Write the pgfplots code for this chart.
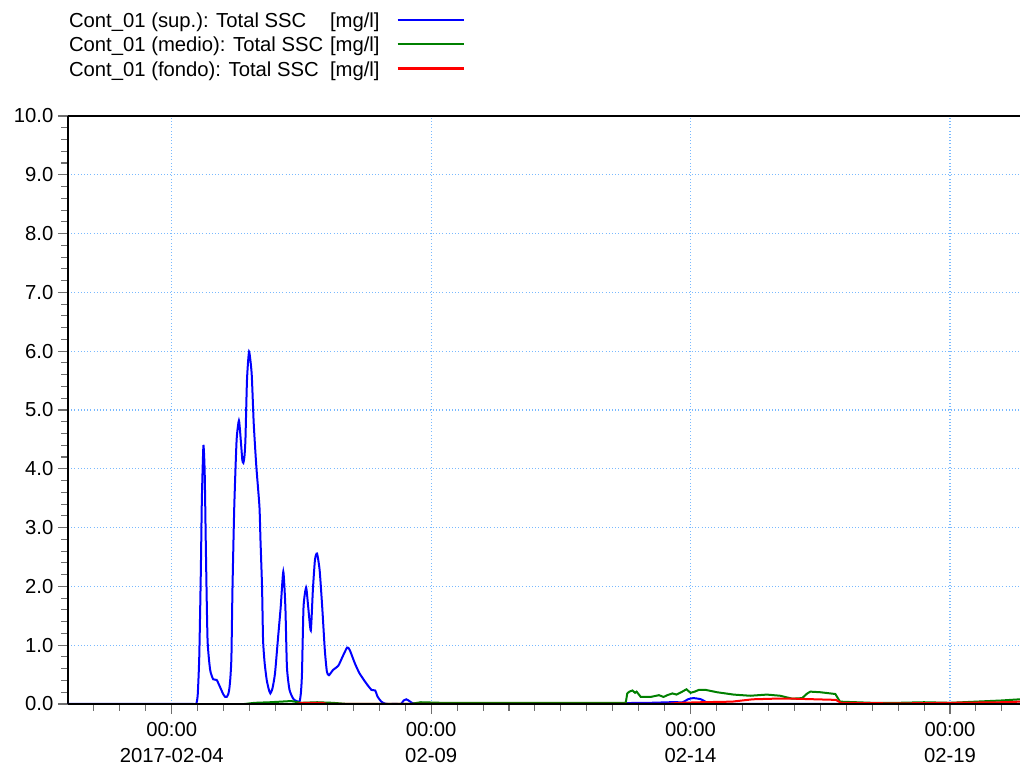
\documentclass[border=0pt]{standalone}
\usepackage{pgfplots}
\pgfplotsset{compat=1.18}
\usepackage{fontspec}
\setmainfont{Liberation Sans}
\definecolor{gridblue}{RGB}{120,185,255}
\definecolor{tickgray}{RGB}{110,110,110}
\definecolor{dgreen}{RGB}{0,128,0}
\newcommand{\legline}[1]{\hspace{13.5pt}\textcolor{#1}{\rule[5pt]{49.5pt}{1.6pt}}}
\begin{document}
\begin{tikzpicture}
\begin{axis}[
  name=ax,
  scale only axis,
  width=714pt, height=441pt,
  xmin=-2, xmax=16.35,
  ymin=0, ymax=10,
  axis x line=bottom, axis y line=left,
  axis line style={-, black, line width=1.5pt},
  tick align=outside,
  major tick length=7.5pt, minor tick length=5pt,
  every tick/.style={tickgray, line width=0.8pt},
  xtick={0,5,10,15},
  minor xtick={-1.5,-1,-0.5,0.5,1,1.5,2,2.5,3,3.5,4,4.5,5.5,6,6.5,7,7.5,8,8.5,9,9.5,10.5,11,11.5,12,12.5,13,13.5,14,14.5,15.5,16},
  xticklabels={{00:00\\2017-02-04},{00:00\\02-09},{00:00\\02-14},{00:00\\02-19}},
  x tick label style={align=center, font=\fontsize{15.2}{19}\selectfont, yshift=-3pt},
  ytick={0,1,...,10},
  minor y tick num=4,
  y tick label style={font=\fontsize{15.2}{18}\selectfont},
  y tick label style={/pgf/number format/fixed, /pgf/number format/fixed zerofill, /pgf/number format/precision=1, /pgf/number format/assume math mode=true},
  grid=major,
  major grid style={gridblue, dotted, line width=0.8pt},
  legend style={draw=none, fill=none, at={(axis description cs:0,1)}, anchor=south west,
    xshift=-3pt, yshift=25.5pt, font=\fontsize{15.2}{18}\selectfont, row sep=4.5pt, column sep=0pt,
    nodes={inner sep=0.6pt}, cells={anchor=west}},
  legend image code/.code={},
]
\addplot[blue, line width=1.5pt, smooth, tension=0.35] coordinates {
(-2,0) (-1,0) (0,0) (0.3,0) (0.42,0) (0.47,0) (0.50,0.15) (0.53,0.80) (0.56,2.23) (0.58,3.47) (0.61,4.39) (0.635,3.93) (0.66,2.5) (0.69,1.09) (0.74,0.58) (0.80,0.42) (0.865,0.41) (0.93,0.29) (0.99,0.17) (1.03,0.12) (1.06,0.12) (1.09,0.17) (1.11,0.26) (1.13,0.45) (1.15,0.80) (1.17,1.94) (1.205,3.36) (1.25,4.49) (1.295,4.82) (1.33,4.49) (1.36,4.15) (1.38,4.10) (1.40,4.2) (1.42,4.49) (1.45,5.51) (1.49,5.99) (1.54,5.62) (1.58,4.77) (1.63,4.04) (1.69,3.36) (1.71,2.79) (1.74,2.0) (1.76,1.09) (1.79,0.7) (1.83,0.41) (1.87,0.25) (1.90,0.18) (1.94,0.26) (1.99,0.52) (2.05,1.14) (2.10,1.65) (2.15,2.25) (2.19,1.65) (2.22,0.63) (2.27,0.24) (2.35,0.08) (2.46,0.04) (2.49,0.2) (2.51,0.52) (2.54,1.65) (2.59,1.98) (2.63,1.65) (2.68,1.25) (2.72,1.94) (2.76,2.45) (2.80,2.56) (2.85,2.28) (2.90,1.65) (2.95,0.92) (2.99,0.55) (3.03,0.49) (3.11,0.58) (3.21,0.65) (3.29,0.80) (3.38,0.96) (3.43,0.92) (3.53,0.69) (3.62,0.52) (3.75,0.35) (3.85,0.24) (3.92,0.23) (3.97,0.12) (4.04,0.04) (4.10,0.01) (4.15,0) (4.25,0) (4.35,0) (4.42,0) (4.47,0.06) (4.52,0.08) (4.58,0.05) (4.65,0.01) (4.75,0.01) (5.0,0.01) (6.0,0.01) (7.0,0.01) (8.0,0.01) (8.6,0.015) (9.2,0.02) (9.6,0.03) (9.75,0.03) (9.85,0.03) (9.95,0.08) (10.05,0.10) (10.2,0.08) (10.35,0.01) (10.5,0) (10.7,0) (11.5,0) (13,0) (16.35,0)
};
\addlegendentry{\makebox[195.75pt][l]{Cont\_01 (sup.): Total SSC}[mg/l]\legline{blue}}
\addplot[dgreen, line width=1.5pt] coordinates {
(1.4,0) (1.6,0.02) (1.9,0.03) (2.1,0.04) (2.3,0.05) (2.5,0.02) (2.8,0.03) (3.1,0.02) (3.4,0) (4.6,0) (4.8,0.03) (5.2,0.02) (6,0.02) (7,0.02) (8,0.02) (8.75,0.02) (8.78,0.18) (8.82,0.21) (8.88,0.23) (8.93,0.19) (8.96,0.21) (9.04,0.12) (9.23,0.12) (9.39,0.15) (9.48,0.12) (9.55,0.15) (9.65,0.18) (9.73,0.16) (9.84,0.21) (9.92,0.25) (10.0,0.19) (10.08,0.21) (10.16,0.24) (10.29,0.24) (10.40,0.22) (10.51,0.20) (10.83,0.16) (11.15,0.14) (11.47,0.16) (11.73,0.14) (11.96,0.09) (12.15,0.10) (12.25,0.18) (12.31,0.21) (12.50,0.20) (12.79,0.17) (12.88,0.04) (13.5,0.02) (14,0.02) (14.5,0.03) (15,0.02) (15.5,0.04) (16,0.06) (16.35,0.08)
};
\addlegendentry{\makebox[195.75pt][l]{Cont\_01 (medio): Total SSC}[mg/l]\legline{dgreen}}
\addplot[red, line width=1.5pt] coordinates {
(2.4,0) (2.5,0.02) (2.9,0.02) (3.0,0) (9.5,0) (9.8,0.02) (10.2,0.03) (10.8,0.04) (11.2,0.08) (11.6,0.09) (12.0,0.09) (12.4,0.08) (12.8,0.07) (12.9,0.02) (14,0.01) (15,0.02) (16,0.03) (16.35,0.04)
};
\addlegendentry{\makebox[195.75pt][l]{Cont\_01 (fondo): Total SSC}[mg/l]\legline{red}}
\draw[black, line width=1.5pt] (rel axis cs:0,1) -- (rel axis cs:1,1);
\draw[black, line width=1.5pt] (rel axis cs:0,0) -- (rel axis cs:1,0);
\end{axis}
\pgfresetboundingbox
\path[use as bounding box] ([xshift=-51pt,yshift=-48.75pt]ax.south west) rectangle ([yshift=87pt]ax.north east);
\end{tikzpicture}
\end{document}
